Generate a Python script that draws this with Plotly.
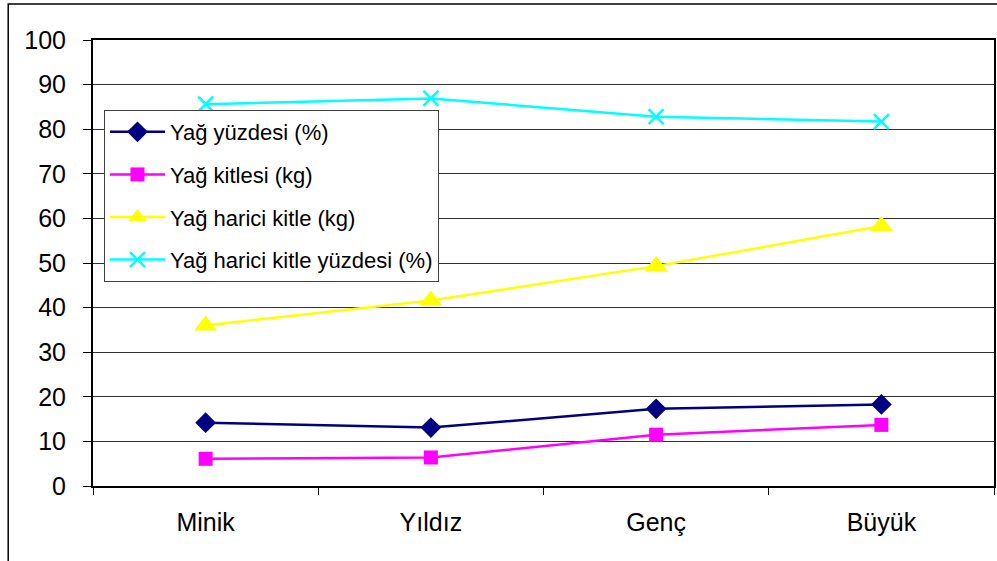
import plotly.graph_objects as go

categories = ["Minik", "Yıldız", "Genç", "Büyük"]
yag_yuzdesi = [14.2, 13.1, 17.3, 18.3]
yag_kitlesi = [6.1, 6.4, 11.5, 13.7]
yag_harici_kitle = [36.0, 41.6, 49.3, 58.3]
yag_harici_yuzde = [85.6, 86.9, 82.8, 81.7]
y_ticks = [0, 10, 20, 30, 40, 50, 60, 70, 80, 90, 100]

series = [
    ("Yağ yüzdesi (%)", yag_yuzdesi, "#000080", dict(symbol="diamond", size=16, color="#000080")),
    ("Yağ kitlesi (kg)", yag_kitlesi, "#FF00FF", dict(symbol="square", size=14, color="#FF00FF")),
    ("Yağ harici kitle (kg)", yag_harici_kitle, "#FFFF00", dict(symbol="triangle-up", size=20, color="#FFFF00")),
    ("Yağ harici kitle yüzdesi (%)", yag_harici_yuzde, "#00FFFF",
     dict(symbol="x-thin-open", size=15, color="#00FFFF", line=dict(color="#00FFFF", width=2.5))),
]

fig = go.Figure()
for i, (name, vals, col, mk) in enumerate(series):
    fig.add_trace(go.Scatter(
        x=categories, y=vals, name=name, mode="lines+markers",
        line=dict(color=col, width=2.5), marker=mk, legendgroup=f"g{i}",
    ))

font = "Liberation Sans, Arial, sans-serif"
fig.update_layout(
    width=997, height=561,
    margin=dict(l=93, r=1, t=40, b=75),
    paper_bgcolor="white", plot_bgcolor="white",
    font=dict(family=font, size=25, color="black"),
    showlegend=True,
    legend=dict(
        x=0.0122, y=0.843, xanchor="left", yanchor="top",
        bgcolor="white", bordercolor="#404040", borderwidth=1,
        font=dict(family=font, size=22, color="black"),
        tracegroupgap=11, itemwidth=55,
    ),
    xaxis=dict(
        type="category", range=[-0.5, 3.5],
        showgrid=False, showline=True, linecolor="black", linewidth=2, mirror=True,
        ticks="outside", tickson="boundaries", ticklen=7, tickcolor="black",
        ticklabelstandoff=13, tickfont=dict(size=25),
    ),
    yaxis=dict(
        range=[0, 100], tickvals=y_ticks,
        showgrid=True, gridcolor="#303030", gridwidth=1,
        showline=True, linecolor="black", linewidth=2, mirror=True,
        ticks="outside", ticklen=8, tickcolor="black",
        ticklabelstandoff=12, tickfont=dict(size=25), zeroline=False,
    ),
    shapes=[
        dict(type="rect", xref="paper", yref="paper",
             x0=-0.0941, x1=1.2, y0=-0.4, y1=1.0807,
             line=dict(color="black", width=1.5), fillcolor="rgba(0,0,0,0)", layer="below"),
    ],
)

fig.write_html(
    "out.html",
    config={"displayModeBar": False},
    post_script="document.body.style.margin='0';document.body.style.overflow='hidden';",
)
